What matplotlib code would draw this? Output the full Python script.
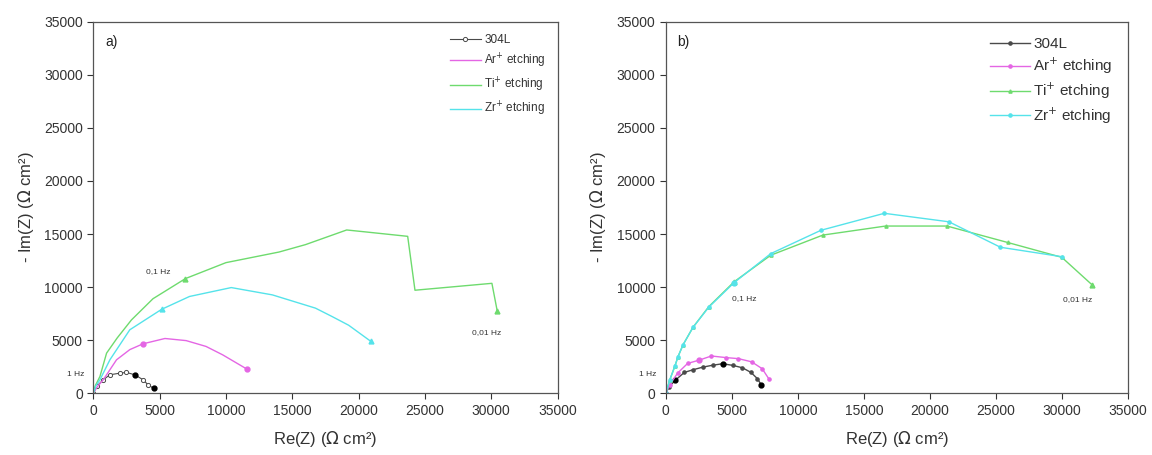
import matplotlib
matplotlib.use('Agg')
import matplotlib.pyplot as plt

plt.rcParams['font.family'] = ['Liberation Sans', 'DejaVu Sans']

series_names = ['304L', 'Ar$^{+}$ etching', 'Ti$^{+}$ etching', 'Zr$^{+}$ etching']
colors = ['#4a4a4a', '#e466e4', '#6edb6e', '#55e3ea']

# panel a) data, Ohm cm2
a_304_x = [0, 300, 750, 1250, 2000, 2500, 3125, 3750, 4125, 4550]
a_304_y = [0, 700, 1260, 1730, 1880, 1950, 1730, 1260, 785, 450]
a_ar_x = [0, 300, 750, 1750, 2750, 3750, 5400, 7000, 8500, 9750, 11600]
a_ar_y = [0, 600, 1260, 3140, 4100, 4650, 5150, 4950, 4400, 3610, 2250]
a_ti_x = [0, 150, 500, 1000, 1800, 2875, 4500, 6950, 10000, 14000, 16000, 19100, 20500, 23700, 24250, 30050, 30450]
a_ti_y = [0, 700, 1570, 3770, 5200, 6900, 8900, 10800, 12300, 13300, 14000, 15380, 15200, 14780, 9700, 10350, 7750]
a_zr_x = [0, 200, 500, 1250, 2750, 5150, 7250, 10400, 13500, 16750, 18000, 19250, 20900]
a_zr_y = [0, 700, 1260, 3140, 5970, 7900, 9110, 9950, 9260, 8010, 7220, 6400, 4900]

# panel b) data
b_304_x = [0, 250, 700, 1400, 2050, 2800, 3550, 4300, 5050, 5800, 6450, 6930, 7230]
b_304_y = [0, 600, 1200, 1950, 2200, 2450, 2630, 2770, 2620, 2390, 1950, 1370, 780]
b_ar_x = [0, 300, 900, 1650, 2500, 3450, 4550, 5500, 6500, 7300, 7800]
b_ar_y = [0, 800, 1900, 2800, 3100, 3500, 3350, 3250, 2950, 2300, 1350]
b_ti_x = [0, 300, 675, 925, 1300, 2050, 3250, 5175, 7950, 11900, 16650, 21300, 25900, 30000, 32300]
b_ti_y = [0, 1260, 2510, 3450, 4550, 6190, 8150, 10500, 13000, 14900, 15750, 15750, 14200, 12800, 10200]
b_zr_x = [0, 300, 675, 925, 1300, 2050, 3250, 5175, 7950, 11750, 16550, 21450, 25350, 30050]
b_zr_y = [0, 1260, 2510, 3450, 4550, 6190, 8100, 10420, 13150, 15350, 16950, 16150, 13750, 12850]

# points at 1 Hz / 0.1 Hz / 0.01 Hz (filled markers)
a_dec = {0: ([3125, 4550], [1730, 450]), 1: ([3750, 11600], [4650, 2250]),
         2: ([6950, 30450], [10800, 7750]), 3: ([5150, 20900], [7900, 4900])}
b_dec = {0: ([700, 4300, 7230], [1200, 2770, 780]), 1: ([2500], [3100]),
         2: ([5175, 32300], [10500, 10200]), 3: ([5175], [10420])}

fig = plt.figure(figsize=(11.52, 4.55), dpi=100)
ax1 = fig.add_axes([0.081, 0.136, 0.403, 0.816])
ax2 = fig.add_axes([0.578, 0.136, 0.401, 0.816])

a_data = [(a_304_x, a_304_y), (a_ar_x, a_ar_y), (a_ti_x, a_ti_y), (a_zr_x, a_zr_y)]
b_data = [(b_304_x, b_304_y), (b_ar_x, b_ar_y), (b_ti_x, b_ti_y), (b_zr_x, b_zr_y)]

for i, (x, y) in enumerate(a_data):
    if i == 0:
        ax1.plot(x, y, '-o', color=colors[i], lw=0.8, ms=3, mfc='white', mew=0.7, label=series_names[i])
    else:
        ax1.plot(x, y, '-', color=colors[i], lw=1.0, label=series_names[i])
    dx, dy = a_dec[i]
    ax1.plot(dx, dy, 'o' if i < 2 else '^', color=colors[i] if i else 'black', ms=3.5, ls='none')

for i, (x, y) in enumerate(b_data):
    ax2.plot(x, y, '-', color=colors[i], lw=1.0, marker='o' if i != 2 else '^', ms=2.3,
             label=series_names[i])
    dx, dy = b_dec[i]
    ax2.plot(dx, dy, 'o' if i != 2 else '^', color=colors[i] if i else 'black', ms=3.5, ls='none')

ax1.text(-1350, 1750, '1 Hz', fontsize=6, color='#333333', ha='center', va='center', clip_on=False)
ax1.text(4900, 11450, '0,1 Hz', fontsize=6, color='#333333', ha='center', va='center')
ax1.text(29650, 5700, '0,01 Hz', fontsize=6, color='#333333', ha='center', va='center')
ax1.text(0.025, 0.945, 'a)', transform=ax1.transAxes, fontsize=10, color='#222222', va='center')

ax2.text(-1350, 1750, '1 Hz', fontsize=6, color='#333333', ha='center', va='center', clip_on=False)
ax2.text(5950, 8950, '0,1 Hz', fontsize=6, color='#333333', ha='center', va='center')
ax2.text(31200, 8800, '0,01 Hz', fontsize=6, color='#333333', ha='center', va='center')
ax2.text(0.025, 0.945, 'b)', transform=ax2.transAxes, fontsize=10, color='#222222', va='center')

for ax in (ax1, ax2):
    ax.set_xlim(0, 35000)
    ax.set_ylim(0, 35000)
    ax.set_xticks(range(0, 35001, 5000))
    ax.set_yticks(range(0, 35001, 5000))
    ax.tick_params(direction='out', length=4, width=0.8, labelsize=10, colors='#333333')
    for sp in ax.spines.values():
        sp.set_color('#555555')
        sp.set_linewidth(0.9)
    ax.set_xlabel('Re(Z) ($\\Omega$ cm²)', fontsize=12, color='#333333', labelpad=8)
    ax.set_ylabel('- Im(Z) ($\\Omega$ cm²)', fontsize=12, color='#333333', labelpad=6)

ax1.legend(loc='upper right', frameon=False, fontsize=8.5, handlelength=2.6, labelspacing=0.5,
           handletextpad=0.3, borderaxespad=0.6, labelcolor='#333333')
ax2.legend(loc='upper right', frameon=False, fontsize=11, handlelength=2.6, labelspacing=0.3,
           handletextpad=0.2, borderaxespad=0.6, labelcolor='#333333')

fig.savefig('out.png', dpi=100)
